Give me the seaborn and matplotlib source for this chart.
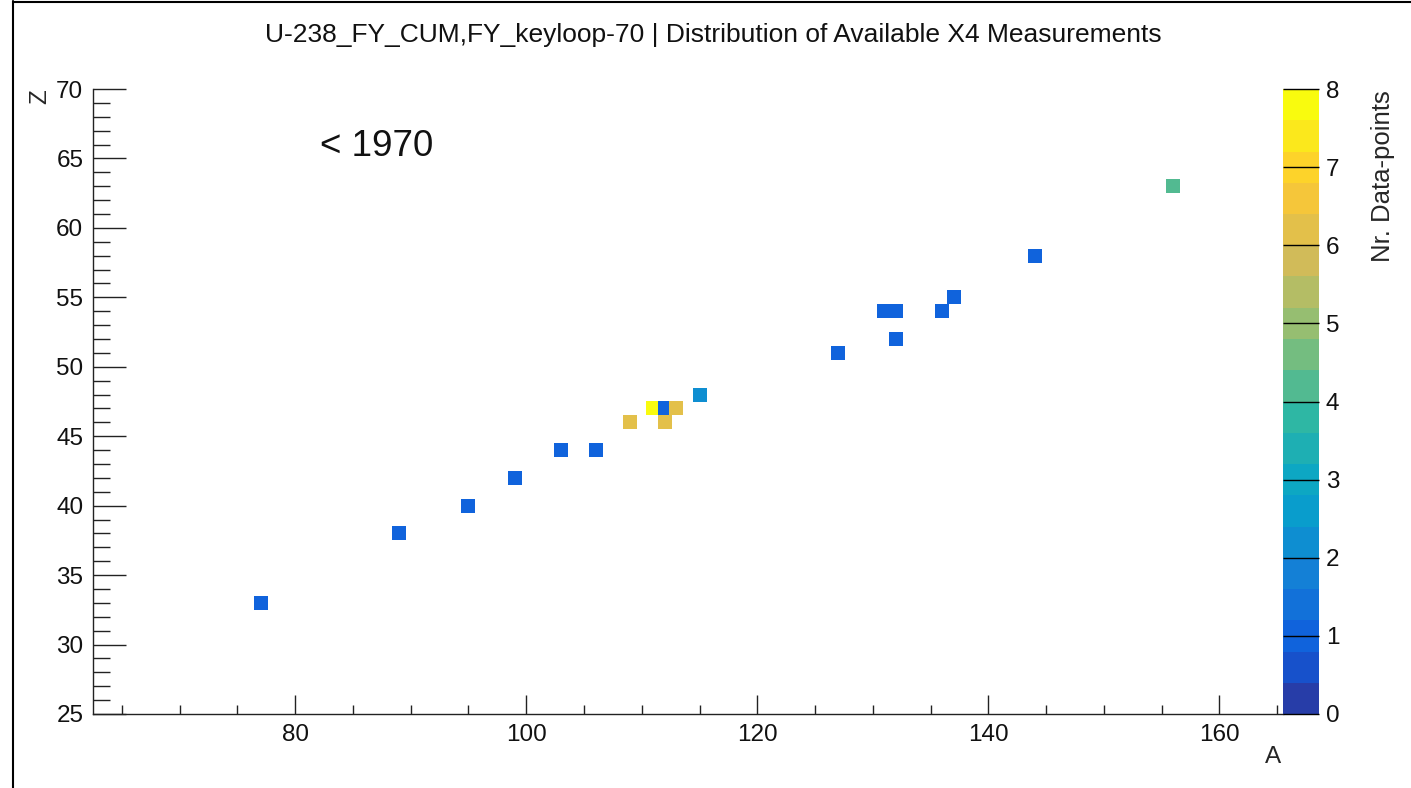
import numpy as np
import pandas as pd
import matplotlib
matplotlib.use("Agg")
import matplotlib.pyplot as plt
from matplotlib.colors import LinearSegmentedColormap, ListedColormap, Normalize
from matplotlib.cm import ScalarMappable
from matplotlib.ticker import MultipleLocator
from matplotlib.lines import Line2D
import seaborn as sns

# ---------------- data ----------------
A_vals = [77, 89, 95, 99, 103, 106, 109, 111, 112, 113, 112, 115, 127, 131, 132, 132, 136, 137, 144, 156]
Z_vals = [33, 38, 40, 42, 44, 44, 46, 47, 47, 47, 46, 48, 51, 54, 54, 52, 54, 55, 58, 63]
N_vals = [1, 1, 1, 1, 1, 1, 6, 8, 1, 6, 6, 2, 1, 1, 1, 1, 1, 1, 1, 4]
cbar_ticks = [0, 1, 2, 3, 4, 5, 6, 7, 8]
title = "U-238_FY_CUM,FY_keyloop-70 | Distribution of Available X4 Measurements"
period_label = "< 1970"

df = pd.DataFrame({"A": A_vals, "Z": Z_vals, "N": N_vals})

# ---------------- style ----------------
sns.set_style("white")
plt.rcParams["font.family"] = ["Liberation Sans", "DejaVu Sans"]
plt.rcParams["text.color"] = "#111111"

# ROOT kBird palette, 20 contour levels
stops = np.linspace(0, 1, 9)
red = [0.2082, 0.0592, 0.0780, 0.0232, 0.1802, 0.5301, 0.8186, 0.9956, 0.9764]
green = [0.1664, 0.3599, 0.5041, 0.6419, 0.7178, 0.7492, 0.7328, 0.7862, 0.9832]
blue = [0.5293, 0.8684, 0.8385, 0.7914, 0.6425, 0.4662, 0.3499, 0.1968, 0.0539]
bird = LinearSegmentedColormap.from_list("bird", list(zip(stops, zip(red, green, blue))), N=255)
nlev = 20
cmap = ListedColormap([bird((i + 0.99) / nlev) for i in range(nlev)])
norm = Normalize(vmin=0, vmax=8)

W, H = 1411, 788
fig = plt.figure(figsize=(W / 100, H / 100), dpi=100)

ax_l, ax_r, ax_t, ax_b = 93, 1283, 89, 714
ax = fig.add_axes([ax_l / W, 1 - ax_b / H, (ax_r - ax_l) / W, (ax_b - ax_t) / H])
cax = fig.add_axes([ax_r / W, 1 - ax_b / H, 36 / W, (ax_b - ax_t) / H])

sns.scatterplot(data=df, x="A", y="Z", hue="N", palette=cmap, hue_norm=norm,
                marker="s", s=102, linewidth=0, legend=False, ax=ax, zorder=3)

ax.set_xlim(62.5, 165.5)
ax.set_ylim(25, 70)
for s in ["top", "right"]:
    ax.spines[s].set_visible(False)
for s in ["left", "bottom"]:
    ax.spines[s].set_color("#222222")
    ax.spines[s].set_linewidth(1.0)

TS = 17.5
ax.xaxis.set_major_locator(MultipleLocator(20))
ax.xaxis.set_minor_locator(MultipleLocator(5))
ax.yaxis.set_major_locator(MultipleLocator(5))
ax.yaxis.set_minor_locator(MultipleLocator(1))
ax.tick_params(axis="x", which="both", bottom=True, top=False)
ax.tick_params(axis="y", which="both", left=True, right=False)
ax.tick_params(axis="x", which="major", direction="in", length=13.5, width=1, color="#222222",
               labelsize=TS, pad=7, labelcolor="#111111")
ax.tick_params(axis="x", which="minor", direction="in", length=6.5, width=1, color="#222222")
ax.tick_params(axis="y", which="major", direction="in", length=24, width=1, color="#222222",
               labelsize=TS, pad=7, labelcolor="#111111")
ax.tick_params(axis="y", which="minor", direction="in", length=12, width=1, color="#222222")

ax.set_xlabel("A", fontsize=TS)
ax.xaxis.label.set_va("center")
ax.xaxis.label.set_ha("center")
ax.xaxis.set_label_coords((1273 - ax_l) / (ax_r - ax_l), -(757 - ax_b) / (ax_b - ax_t))
ax.set_ylabel("Z", fontsize=TS)
ax.yaxis.label.set_va("center")
ax.yaxis.label.set_ha("center")
ax.yaxis.set_label_coords(-(ax_l - 40) / (ax_r - ax_l), (ax_b - 97) / (ax_b - ax_t))

ax.text((320 - ax_l) / (ax_r - ax_l), (ax_b - 147) / (ax_b - ax_t), period_label,
        fontsize=26.5, ha="left", va="center", transform=ax.transAxes)

# colorbar
sm = ScalarMappable(norm=norm, cmap=cmap)
cb = fig.colorbar(sm, cax=cax, ticks=cbar_ticks)
cb.outline.set_visible(False)
cax.set_axisbelow(False)
cax.minorticks_off()
cax.tick_params(axis="y", which="major", right=True, left=False, direction="in", length=26,
                width=1, color="black", labelsize=TS, pad=5, labelcolor="#111111")
cb.set_label("Nr. Data-points", fontsize=18.5, rotation=90)
cax.yaxis.label.set_va("center")
cax.yaxis.label.set_ha("center")
cax.yaxis.set_label_coords((1383 - ax_r) / 36, (ax_b - 176) / (ax_b - ax_t))

fig.text(713 / W, 1 - 35 / H, title, fontsize=19, ha="center", va="center")

# outer frame lines (left and top)
fig.add_artist(Line2D([13 / W, 13 / W], [0, 1 - 1 / H], transform=fig.transFigure, color="black", lw=1.5))
fig.add_artist(Line2D([13 / W, 1], [1 - 1.5 / H, 1 - 1.5 / H], transform=fig.transFigure, color="black", lw=1.5))

fig.savefig("out.png", dpi=100)
